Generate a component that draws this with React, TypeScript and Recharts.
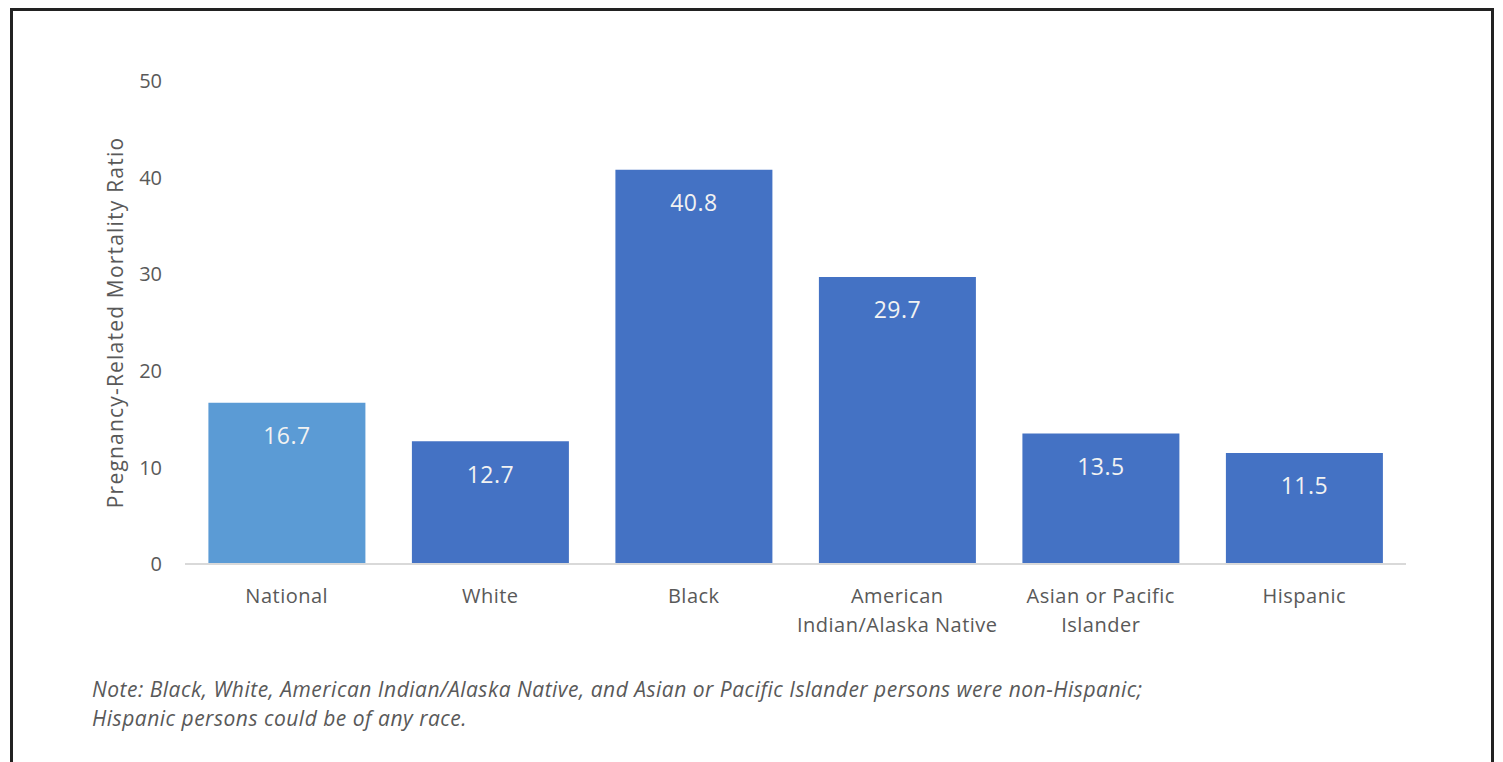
import { BarChart, Bar, XAxis, YAxis, Cell, LabelList, Label } from "recharts";

const categories = [
  "National",
  "White",
  "Black",
  "American Indian/Alaska Native",
  "Asian or Pacific Islander",
  "Hispanic",
];
const tickLines = [
  ["National"],
  ["White"],
  ["Black"],
  ["American", "Indian/Alaska Native"],
  ["Asian or Pacific", "Islander"],
  ["Hispanic"],
];
const ratios = [16.7, 12.7, 40.8, 29.7, 13.5, 11.5];
const barColors = ["#5B9BD5", "#4472C4", "#4472C4", "#4472C4", "#4472C4", "#4472C4"];
const yTicks = [0, 10, 20, 30, 40, 50];

const data = categories.map((name, i) => ({ name, value: ratios[i] }));

const FONT = "'Open Sans', 'Noto Sans', sans-serif";

function CategoryTick(props: any) {
  const { x, y, index } = props;
  const lines = tickLines[index] || [];
  return (
    <g>
      {lines.map((line, i) => (
        <text
          key={i}
          x={x}
          y={y + 31 + i * 29}
          textAnchor="middle"
          fill="#595959"
          fontSize={20}
          fontFamily={FONT}
          style={{ letterSpacing: "0.5px" }}
        >
          {line}
        </text>
      ))}
    </g>
  );
}

export default function App() {
  return (
    <div
      style={{
        position: "absolute",
        left: 0,
        top: 0,
        width: 1503,
        height: 762,
        overflow: "hidden",
        background: "#fff",
        fontFamily: FONT,
      }}
    >
      <div
        style={{
          position: "absolute",
          left: 10,
          top: 8,
          width: 1478,
          height: 800,
          borderTop: "3px solid #222",
          borderLeft: "3px solid #222",
          borderRight: "3px solid #222",
        }}
      />
      <div style={{ position: "absolute", left: 0, top: 0 }}>
        <BarChart
          width={1503}
          height={762}
          data={data}
          margin={{ top: 81, right: 97, bottom: 138, left: 125 }}
          barCategoryGap="11.5%"
        >
          <XAxis
            dataKey="name"
            height={60}
            interval={0}
            tickLine={false}
            axisLine={{ stroke: "#d9d9d9", strokeWidth: 2 }}
            tick={<CategoryTick />}
          />
          <YAxis
            width={60}
            domain={[0, 50]}
            ticks={yTicks}
            axisLine={false}
            tickLine={false}
            tickMargin={17}
            tick={{ fill: "#595959", fontSize: 20, fontFamily: FONT }}
          >
            <Label
              value="Pregnancy-Related Mortality Ratio"
              angle={-90}
              position="center"
              dx={-39}
              fill="#595959"
              fontSize={21}
              fontFamily={FONT}
              style={{ letterSpacing: "1.2px" }}
            />
          </YAxis>
          <Bar dataKey="value" isAnimationActive={false}>
            {data.map((d, i) => (
              <Cell key={d.name} fill={barColors[i]} />
            ))}
            <LabelList
              dataKey="value"
              position="insideTop"
              offset={25}
              fill="#f2f2f2"
              fontSize={23}
              fontFamily={FONT}
              style={{ letterSpacing: "0.5px" }}
              formatter={(v: any) => Number(v).toFixed(1)}
            />
          </Bar>
        </BarChart>
      </div>
      <div
        style={{
          position: "absolute",
          left: 92,
          top: 675,
          fontStyle: "italic",
          fontSize: 21,
          lineHeight: "29px",
          letterSpacing: "0.5px",
          color: "#595959",
          whiteSpace: "nowrap",
        }}
      >
        Note: Black, White, American Indian/Alaska Native, and Asian or Pacific Islander persons were non-Hispanic;
        <br />
        Hispanic persons could be of any race.
      </div>
    </div>
  );
}
